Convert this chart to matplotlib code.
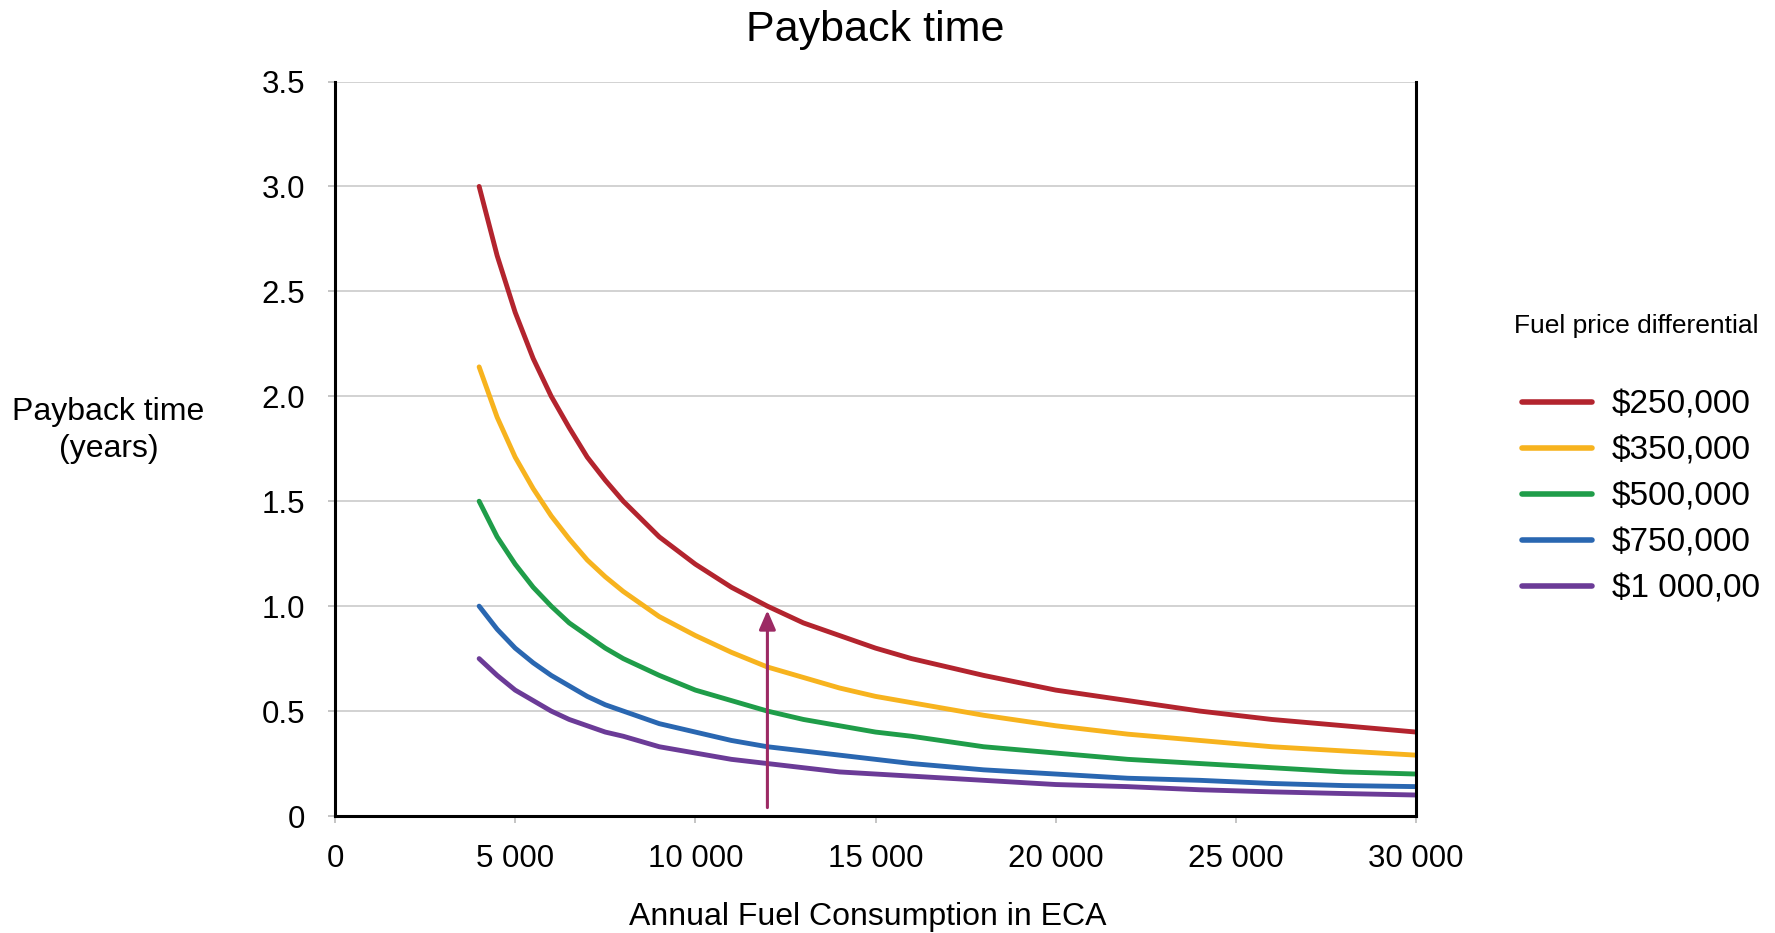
import matplotlib
matplotlib.use("Agg")
import matplotlib.pyplot as plt

plt.rcParams['font.family'] = ['Liberation Sans', 'DejaVu Sans']

# annual fuel consumption in ECA
x = [4000, 4500, 5000, 5500, 6000, 6500, 7000, 7500, 8000, 9000, 10000, 11000,
     12000, 13000, 14000, 15000, 16000, 18000, 20000, 22000, 24000, 26000,
     28000, 30000]

# payback time (years)
y_250 = [3.0, 2.67, 2.4, 2.18, 2.0, 1.85, 1.71, 1.6, 1.5, 1.33, 1.2, 1.09,
         1.0, 0.92, 0.86, 0.8, 0.75, 0.67, 0.6, 0.55, 0.5, 0.46, 0.43, 0.4]
y_350 = [2.14, 1.9, 1.71, 1.56, 1.43, 1.32, 1.22, 1.14, 1.07, 0.95, 0.86, 0.78,
         0.71, 0.66, 0.61, 0.57, 0.54, 0.48, 0.43, 0.39, 0.36, 0.33, 0.31, 0.29]
y_500 = [1.5, 1.33, 1.2, 1.09, 1.0, 0.92, 0.86, 0.8, 0.75, 0.67, 0.6, 0.55,
         0.5, 0.46, 0.43, 0.4, 0.38, 0.33, 0.3, 0.27, 0.25, 0.23, 0.21, 0.2]
y_750 = [1.0, 0.89, 0.8, 0.73, 0.67, 0.62, 0.57, 0.53, 0.5, 0.44, 0.4, 0.36,
         0.33, 0.31, 0.29, 0.27, 0.25, 0.22, 0.2, 0.18, 0.17, 0.155, 0.145, 0.14]
y_1000 = [0.75, 0.67, 0.6, 0.55, 0.5, 0.46, 0.43, 0.4, 0.38, 0.33, 0.3, 0.27,
          0.25, 0.23, 0.21, 0.2, 0.19, 0.17, 0.15, 0.14, 0.125, 0.115, 0.107, 0.1]

labels = ['$250,000', '$350,000', '$500,000', '$750,000', '$1 000,00']
colors = ['#B3242E', '#F7B31E', '#1F9D49', '#2A67B1', '#6B3B97']

# arrow marking 12 000 -> 1 year
arrow_x = 12000
arrow_y0 = 0.04
arrow_y1 = 0.98

yticks = [0, 0.5, 1.0, 1.5, 2.0, 2.5, 3.0, 3.5]
ytick_labels = ['0', '0.5', '1.0', '1.5', '2.0', '2.5', '3.0', '3.5']
xticks = [0, 5000, 10000, 15000, 20000, 25000, 30000]
xtick_labels = ['0', '5 000', '10 000', '15 000', '20 000', '25 000', '30 000']

fig = plt.figure(figsize=(17.75, 9.33), dpi=100)
ax = fig.add_axes([335/1775, 1 - 816/933, 1081/1775, 734.5/933])

series = [y_250, y_350, y_500, y_750, y_1000]
for ys, lab, c in zip(series, labels, colors):
    ax.plot(x, ys, color=c, lw=3.5, label=lab, solid_capstyle='round',
            solid_joinstyle='round')

ax.annotate('', xy=(arrow_x, arrow_y1), xytext=(arrow_x, arrow_y0),
            arrowprops=dict(arrowstyle='-|>,head_length=1.15,head_width=0.5',
                            color='#9C2A64', lw=2.2, shrinkA=0, shrinkB=0))

ax.set_xlim(0, 30000)
ax.set_ylim(0, 3.5)
ax.set_yticks(yticks)
ax.set_yticklabels(ytick_labels)
ax.set_xticks(xticks)
ax.set_xticklabels(xtick_labels)
ax.grid(axis='y', color='#D2D2D2', lw=1.4)
ax.set_axisbelow(True)

ax.tick_params(axis='y', length=5, width=1.2, color='#BBBBBB', pad=16.5, labelsize=22.5)
ax.tick_params(axis='x', length=5, width=1.2, color='#BBBBBB', pad=15, labelsize=22.5)

for s in ['left', 'right', 'bottom']:
    ax.spines[s].set_linewidth(2.2)
    ax.spines[s].set_color('black')
ax.spines['top'].set_visible(False)

ax.set_title('Payback time', fontsize=31, y=1 + 51/734.5, va='center', pad=0)
ax.set_ylabel('Payback time\n(years)', fontsize=23, rotation=0, ha='center',
              va='center', multialignment='center', linespacing=1.3)
ax.yaxis.set_label_coords(-0.2095, 0.525)
ax.set_xlabel('Annual Fuel Consumption in ECA', fontsize=23, va='center')
ax.xaxis.set_label_coords(0.493, -0.137)

fig.text(1514/1775, 1 - 326/933, 'Fuel price differential', fontsize=19,
         ha='left', va='center')
ax.legend(loc='upper left', bbox_to_anchor=(1522/1775, 1 - 390/933),
          bbox_transform=fig.transFigure, frameon=False, fontsize=24,
          handlelength=2.1, handletextpad=0.6, labelspacing=0.45,
          borderpad=0, borderaxespad=0)
for line in ax.get_legend().get_lines():
    line.set_linewidth(4)

fig.savefig('out.png', dpi=100)
